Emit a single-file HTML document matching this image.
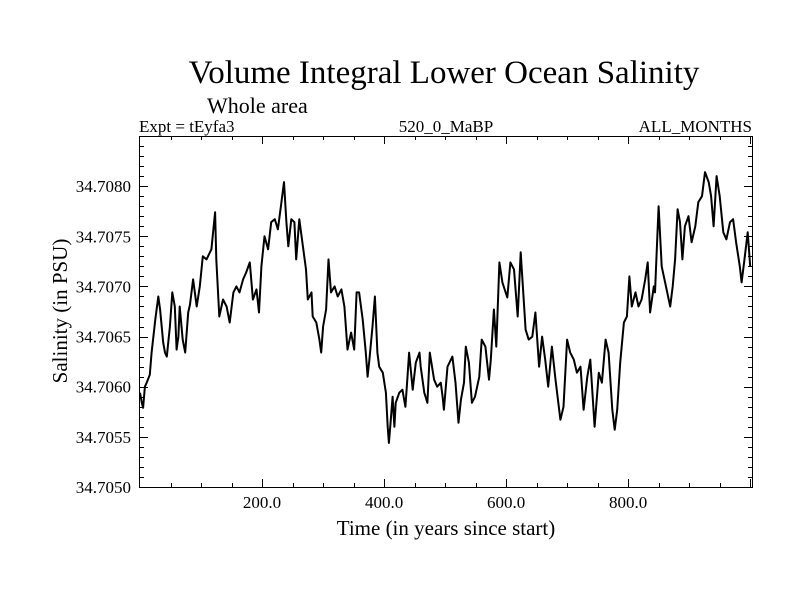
<!DOCTYPE html>
<html><head><meta charset="utf-8"><style>
body{margin:0;background:#fff}
svg text{font-family:"Liberation Serif",serif;fill:#000}
</style></head><body>
<svg id="chart" width="800" height="600" xmlns="http://www.w3.org/2000/svg">
<rect width="800" height="600" fill="#fff"/>
<text x="444" y="83" font-size="33" text-anchor="middle">Volume Integral Lower Ocean Salinity</text>
<text x="207" y="113" font-size="22">Whole area</text>
<text x="139" y="132" font-size="17">Expt = tEyfa3</text>
<text x="446" y="132" font-size="17" text-anchor="middle">520_0_MaBP</text>
<text x="752" y="132" font-size="17" text-anchor="end">ALL_MONTHS</text>
<text x="446" y="535" font-size="21" text-anchor="middle">Time (in years since start)</text>
<text x="0" y="0" font-size="21" text-anchor="middle" transform="translate(67,311) rotate(-90)">Salinity (in PSU)</text>
<g id="axes"></g>
<path id="series" fill="none" stroke="#000" stroke-width="2" stroke-linejoin="round"/>
<rect x="139.5" y="136.5" width="613" height="351" fill="none" stroke="#000" stroke-width="1"/>
</svg>
<script>
const years=[0,3,5,8,11,16,19,25,30,33,38,41,44,49,53,57,60,63,65,70,74,79,82,87,93,98,103,109,117,123,125,130,136,142,147,153,158,163,169,174,180,185,191,195,199,204,210,215,221,226,231,236,240,243,248,253,256,261,267,272,275,281,283,289,294,297,300,305,309,313,319,324,330,335,340,346,351,355,359,365,370,373,376,381,385,389,392,398,403,406,408,411,414,417,419,425,430,435,438,441,447,452,458,460,466,471,475,482,487,493,496,498,504,512,517,522,526,531,534,539,544,549,556,560,566,572,575,580,584,589,594,602,607,613,619,624,632,637,643,648,654,659,664,669,675,681,689,694,700,705,711,716,722,727,733,738,745,752,757,763,768,774,778,782,787,793,798,802,806,812,817,822,828,832,836,842,844,850,855,863,869,873,877,881,885,889,893,899,904,910,915,921,926,932,936,940,945,950,956,961,967,972,977,983,986,990,996,1000];
const salinity=[34.70594,34.70584,34.70579,34.70600,34.70604,34.70612,34.70634,34.70667,34.70690,34.70677,34.70644,34.70634,34.70630,34.70660,34.70694,34.70680,34.70637,34.70650,34.70680,34.70647,34.70634,34.70674,34.70682,34.70707,34.70680,34.70700,34.70730,34.70727,34.70737,34.70774,34.70727,34.70670,34.70687,34.70680,34.70664,34.70694,34.70700,34.70694,34.70707,34.70714,34.70724,34.70687,34.70697,34.70674,34.70720,34.70750,34.70737,34.70764,34.70767,34.70757,34.70780,34.70804,34.70764,34.70740,34.70767,34.70764,34.70727,34.70767,34.70740,34.70717,34.70687,34.70694,34.70670,34.70664,34.70647,34.70634,34.70660,34.70677,34.70727,34.70694,34.70700,34.70690,34.70697,34.70680,34.70637,34.70654,34.70637,34.70694,34.70694,34.70667,34.70634,34.70610,34.70627,34.70660,34.70690,34.70634,34.70620,34.70614,34.70594,34.70560,34.70544,34.70567,34.70590,34.70560,34.70584,34.70594,34.70597,34.70580,34.70607,34.70634,34.70597,34.70624,34.70634,34.70620,34.70594,34.70584,34.70634,34.70607,34.70600,34.70604,34.70590,34.70577,34.70620,34.70630,34.70604,34.70564,34.70587,34.70604,34.70640,34.70624,34.70584,34.70590,34.70610,34.70647,34.70640,34.70607,34.70627,34.70677,34.70640,34.70724,34.70704,34.70689,34.70724,34.70717,34.70670,34.70734,34.70657,34.70647,34.70650,34.70674,34.70620,34.70650,34.70627,34.70600,34.70640,34.70607,34.70567,34.70580,34.70647,34.70634,34.70627,34.70614,34.70620,34.70577,34.70610,34.70627,34.70560,34.70614,34.70604,34.70647,34.70634,34.70577,34.70557,34.70577,34.70624,34.70664,34.70670,34.70710,34.70680,34.70694,34.70680,34.70687,34.70707,34.70724,34.70674,34.70700,34.70694,34.70780,34.70720,34.70697,34.70680,34.70700,34.70727,34.70777,34.70764,34.70727,34.70760,34.70770,34.70744,34.70760,34.70784,34.70790,34.70814,34.70804,34.70790,34.70760,34.70810,34.70790,34.70754,34.70747,34.70764,34.70767,34.70744,34.70720,34.70704,34.70724,34.70754,34.70720];
const xTickLabels=["200.0","400.0","600.0","800.0"];
const xTickValues=[200,400,600,800];
const yTickLabels=["34.7050","34.7055","34.7060","34.7065","34.7070","34.7075","34.7080"];
const yTickValues=[34.7050,34.7055,34.7060,34.7065,34.7070,34.7075,34.7080];

const X0=140,X1=752,Y0=487,Y1=136,XMIN=0,XMAX=1003,YMIN=34.7050,YMAX=34.7085;
function sx(v){return X0+(v-XMIN)/(XMAX-XMIN)*(X1-X0);}
function sy(v){return Y0-(v-YMIN)/(YMAX-YMIN)*(Y0-Y1);}
const NS="http://www.w3.org/2000/svg";
const g=document.getElementById('axes');
function ln(x1,y1,x2,y2,name){const l=document.createElementNS(NS,'line');l.setAttribute('x1',x1);l.setAttribute('y1',y1);l.setAttribute('x2',x2);l.setAttribute('y2',y2);l.setAttribute('stroke','#000');l.setAttribute('stroke-width','1');


g.appendChild(l);}
function tx(x,y,s,anchor,name){const t=document.createElementNS(NS,'text');t.setAttribute('x',x);t.setAttribute('y',y);t.setAttribute('font-size','17');t.setAttribute('text-anchor',anchor);t.textContent=s;


g.appendChild(t);}
for(let v=50;v<XMAX;v+=50){const x=Math.round(sx(v))+0.5;const major=v%200===0;const L=major?8:4;
ln(x,Y0,x,Y0-L,'x-tick');ln(x,Y1,x,Y1+L,'x-tick');}
xTickValues.forEach((v,i)=>tx(sx(v),508,xTickLabels[i],'middle','x-tick-label'));
for(let k=0;k<=35;k++){const v=YMIN+k*0.0001;const y=Math.round(sy(v))+0.5;const major=k%5===0;const L=major?8:4;
ln(X0,y,X0+L,y,'y-tick');ln(X1,y,X1-L,y,'y-tick');}
yTickValues.forEach((v,i)=>tx(131,sy(v)+6,yTickLabels[i],'end','y-tick-label'));
let d='';years.forEach((t,i)=>{d+=(i?'L':'M')+sx(t).toFixed(1)+','+sy(salinity[i]).toFixed(1);});
document.getElementById('series').setAttribute('d',d);
</script>
</body></html>
